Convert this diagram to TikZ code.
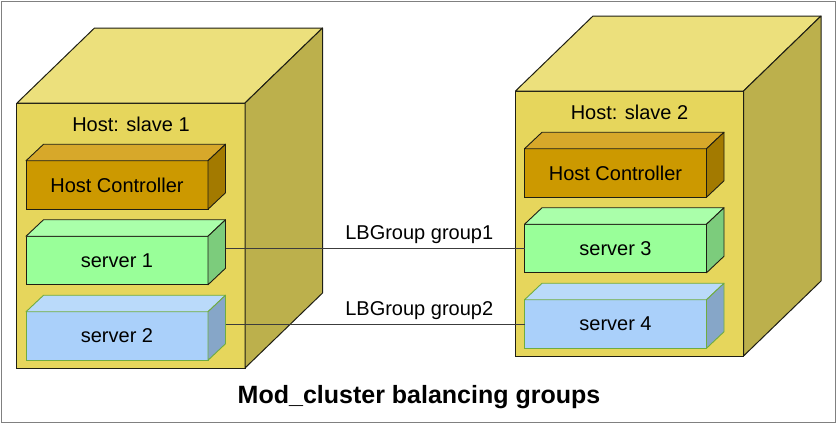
\documentclass[tikz,border=0pt]{standalone}
\usepackage{fontspec}
\setmainfont{Liberation Sans}
\usetikzlibrary{positioning}

\definecolor{hostfront}{RGB}{230,214,92}
\definecolor{hosttop}{RGB}{236,224,124}
\definecolor{hostside}{RGB}{188,176,76}
\definecolor{ctrlfront}{RGB}{204,153,0}
\definecolor{ctrltop}{RGB}{215,168,42}
\definecolor{ctrlside}{RGB}{163,122,0}
\definecolor{grnfront}{RGB}{153,255,153}
\definecolor{grntop}{RGB}{170,255,170}
\definecolor{grnside}{RGB}{124,204,124}
\definecolor{blufront}{RGB}{170,208,250}
\definecolor{blutop}{RGB}{186,218,250}
\definecolor{bluside}{RGB}{134,166,200}
\definecolor{bluedge}{RGB}{112,172,64}
\definecolor{edge}{RGB}{30,30,20}
\definecolor{wire}{RGB}{60,60,60}

\tikzset{
  txt/.style={font=\fontsize{20bp}{24bp}\selectfont},
  hostbox/.style={draw=edge,line width=1bp,fill=hostfront,minimum width=228bp,minimum height=265bp,inner sep=0pt,outer sep=0pt},
  unitbox/.style={txt,draw=edge,line width=0.9bp,minimum width=182bp,minimum height=48.5bp,inner sep=0pt,outer sep=0pt},
  ctrlbox/.style={unitbox,fill=ctrlfront},
  grnbox/.style={unitbox,fill=grnfront},
  blubox/.style={unitbox,fill=blufront,draw=bluedge},
  wireline/.style={draw=wire,line width=0.9bp}
}

\begin{document}
\begin{tikzpicture}[x=1bp,y=-1bp]
\useasboundingbox (0,0) rectangle (837,424);
\draw[gray,line width=1.5bp] (1.5,1.5) rectangle (835.5,422.5);

% hosts
\node[hostbox] (h1) at (131,235.5) {};
\node[hostbox] (h2) at (629.5,223.5) {};
\foreach \n in {h1,h2}{
  \draw[fill=hosttop,draw=edge,line width=1bp,line join=round] (\n.north west) -- ++(77.5,-75) -- ([shift={(77.5,-75)}]\n.north east) -- (\n.north east) -- cycle;
  \draw[fill=hostside,draw=edge,line width=1bp,line join=round] (\n.north east) -- ++(77.5,-75) -- ([shift={(77.5,-75)}]\n.south east) -- (\n.south east) -- cycle;
}
\node[txt,anchor=base] (t1) at ([yshift=-28bp]h1.north) {Host: slave 1};
\node[txt,anchor=base] (t2) at ([yshift=-28bp]h2.north) {Host: slave 2};

% controllers and servers
\node[ctrlbox] (c1) at (117,185) {Host Controller};
\node[grnbox] (s1) at (117,260.5) {server 1};
\node[blubox] (s2) at (117,336) {server 2};
\node[ctrlbox] (c2) at (615.5,173) {Host Controller};
\node[grnbox] (s3) at (615.5,248.5) {server 3};
\node[blubox] (s4) at (615.5,324) {server 4};
\foreach \n/\t/\s/\e in {c1/ctrltop/ctrlside/edge,s1/grntop/grnside/edge,s2/blutop/bluside/bluedge,
                         c2/ctrltop/ctrlside/edge,s3/grntop/grnside/edge,s4/blutop/bluside/bluedge}{
  \draw[fill=\t,draw=\e,line width=0.9bp,line join=round] (\n.north west) -- ++(17.5,-16.5) -- ([shift={(17.5,-16.5)}]\n.north east) -- (\n.north east) -- cycle;
  \draw[fill=\s,draw=\e,line width=0.9bp,line join=round] (\n.north east) -- ++(17.5,-16.5) -- ([shift={(17.5,-16.5)}]\n.south east) -- (\n.south east) -- cycle;
}

% balancing groups
\coordinate (s1r) at ([xshift=17.5bp]s1.east);
\coordinate (s2r) at ([xshift=17.5bp]s2.east);
\draw[wireline] (s1r |- s3.west) -- node[txt,pos=0.648,anchor=base,yshift=9bp] (g1) {LBGroup group1} (s3.west);
\draw[wireline] (s2r |- s4.west) -- node[txt,pos=0.648,anchor=base,yshift=9bp] (g2) {LBGroup group2} (s4.west);

\node[font=\fontsize{25bp}{30bp}\selectfont\bfseries,anchor=base] (title) at (419,403) {Mod\_cluster balancing groups};
\end{tikzpicture}
\end{document}
